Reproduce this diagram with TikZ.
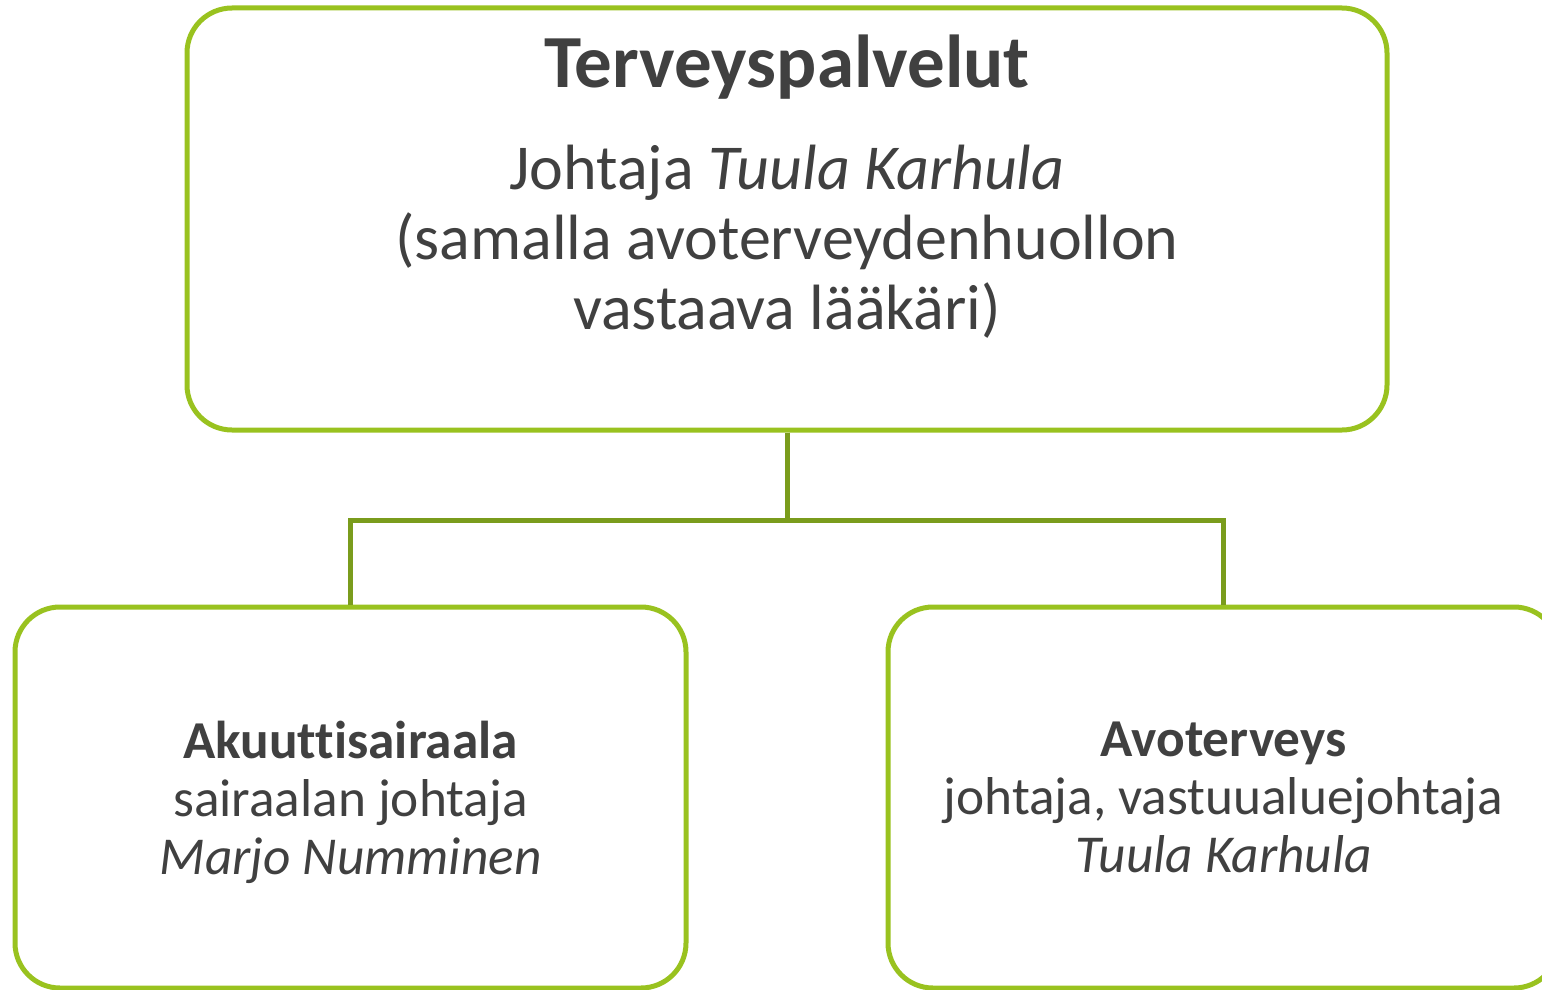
\documentclass[tikz,border=0pt]{standalone}
\usepackage{fontspec}
\setmainfont[Ligatures=CommonOff]{Carlito}
\usetikzlibrary{positioning}

\definecolor{green1}{RGB}{153,194,31}
\definecolor{green2}{RGB}{122,156,28}
\definecolor{gray1}{RGB}{64,64,64}

\tikzstyle{block} = [draw=green1, line width=5pt, rectangle, rounded corners=45pt, align=center, text=gray1, minimum width=1200pt, minimum height=422pt, inner sep=0pt, font=\fontsize{64}{70}\selectfont]
\tikzstyle{blockSmall} = [draw=green1, line width=5pt, rectangle, rounded corners=45pt, align=center, text=gray1, minimum width=671pt, minimum height=381pt, inner sep=0pt, font=\fontsize{53.3}{58}\selectfont]
\tikzstyle{link} = [draw=green2, line width=5pt]

\begin{document}
\begin{tikzpicture}[x=1pt, y=-1pt, node distance=578.5pt]
  \useasboundingbox (0,0) rectangle (1542,990);

  \node [block] at (787,219) (services) {{\fontsize{75}{80}\selectfont\bfseries Terveyspalvelut}\\[32pt]Johtaja \textit{Tuula Karhula}\\(samalla avoterveydenhuollon\\vastaava lääkäri)\\[4pt]\mbox{}};

  \node [blockSmall, below of=services, xshift=-436.5pt] (acute) {\textbf{Akuuttisairaala}\\sairaalan johtaja\\\raisebox{0pt}[\height][0pt]{\textit{Marjo Numminen}}};
  \node [blockSmall, below of=services, xshift=436.5pt] (primary) {\textbf{Avoterveys}\\johtaja, vastuualuejohtaja\\\textit{Tuula Karhula}};

  \draw [link] (services.south) -- ++(0,-88pt) -| (acute.north);
  \draw [link] (services.south) -- ++(0,-88pt) -| (primary.north);
\end{tikzpicture}
\end{document}
